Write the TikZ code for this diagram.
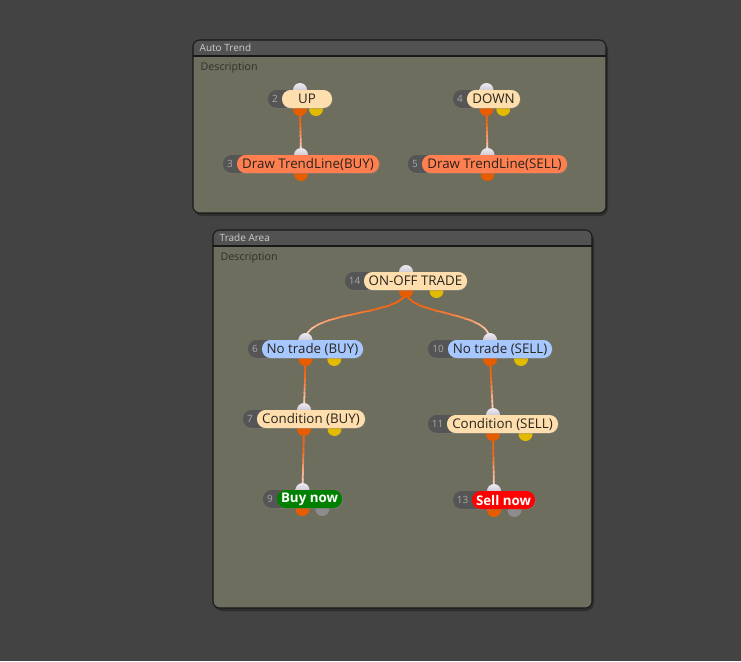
\documentclass[tikz,border=0pt]{standalone}
\usepackage{fontspec}
\setmainfont{Open Sans}
\usepackage{tikz}
\usetikzlibrary{shadows,calc}
\definecolor{bgGray}{RGB}{67,67,67}
\definecolor{panelFill}{RGB}{110,110,94}
\definecolor{titleGray}{RGB}{82,82,82}
\definecolor{titleText}{RGB}{205,205,205}
\definecolor{descText}{RGB}{48,48,42}
\definecolor{numGray}{RGB}{85,85,85}
\definecolor{numText}{RGB}{168,168,168}
\definecolor{nodeInk}{RGB}{40,36,30}
\definecolor{nodeCream}{RGB}{255,222,173}
\definecolor{nodeCoral}{RGB}{255,127,80}
\definecolor{nodeSky}{RGB}{166,200,255}
\definecolor{nodeGreen}{RGB}{0,128,0}
\definecolor{nodeRed}{RGB}{255,0,0}
\definecolor{portIn}{RGB}{214,202,220}
\definecolor{portOut}{RGB}{232,92,0}
\definecolor{portAux}{RGB}{226,186,0}
\definecolor{portOff}{RGB}{140,140,140}
\definecolor{wireOrange}{RGB}{240,100,20}
\definecolor{wirePale}{RGB}{252,238,238}
\pgfdeclarelayer{panels}
\pgfdeclarelayer{wires}
\pgfsetlayers{panels,wires,main}
% wire from an out port to an in port, orange fading to pale downwards
\newcommand{\gradwire}[3]{%
  \path (#1-out.center) coordinate (w0) (#2-in.center) coordinate (w1);
  \foreach \k in {0,...,11}{
    \pgfmathtruncatemacro\pct{min(100,(12-\k)*12)}
    \begin{scope}
      \clip ($(w0)!{(\k-0.1)/12}!(w1)+(-150,0)$) rectangle ($(w0)!{(\k+1)/12}!(w1)+(150,0)$);
      \draw[wire,wireOrange!\pct!wirePale] (#1-out.center) #3 (#2-in.center);
    \end{scope}
  }}

\begin{document}
\begin{tikzpicture}[x=0.75pt,y=-0.75pt,
  pill/.style={rectangle,rounded corners=6.5pt,fill=#1,minimum height=13.5pt,
               inner sep=0pt,font=\fontsize{10}{11}\selectfont,
               drop shadow={shadow xshift=0.7pt,shadow yshift=-0.9pt,opacity=0.4}},
  port/.style={circle,inner sep=0pt,minimum size=10.5pt,fill=#1},
  inport/.style={circle,inner sep=0pt,minimum size=10.5pt,
                 top color=portIn!40!white,bottom color=portIn!85!black},
  wire/.style={line width=1.3pt},
  box/.style={draw=black!90,line width=0.8pt,rounded corners=5pt},
  title/.style={anchor=west,text=titleText,font=\fontsize{7.5}{8}\selectfont},
  desc/.style={anchor=west,text=descText,font=\fontsize{8}{9}\selectfont}
]
\useasboundingbox (0,0) rectangle (741,661);

% Panels
\begin{pgfonlayer}{panels}
\fill[bgGray] (0,0) rectangle (741,661);
\foreach \pn/\xa/\ya/\xb/\yb/\ttl in {autotrend/193/40/606/213/Auto Trend,
                                    tradearea/213/230/592/608/Trade Area}
{
  \fill[black,opacity=0.3,rounded corners=6pt] (\xa+1,\ya+2) rectangle (\xb+2,\yb+3);
  \begin{scope}
    \clip[rounded corners=5pt] (\xa,\ya) rectangle (\xb,\yb);
    \fill[panelFill] (\xa,\ya) rectangle (\xb,\yb);
    \fill[titleGray] (\xa,\ya) rectangle (\xb,\ya+16);
    \draw[black!90,line width=0.8pt] (\xa,\ya+16) -- (\xb,\ya+16);
  \end{scope}
  \draw[box] (\xa,\ya) rectangle (\xb,\yb);
  \node[title] (\pn-title) at (\xa+2,\ya+8) {\ttl};
  \node[desc] (\pn-desc) at (\xa+3,\ya+28) {Description};
}
\end{pgfonlayer}

% Blocks: name / left / pill left / right / y / number / fill / ink / aux port / text
\foreach \nm/\xl/\xp/\xr/\yy/\num/\fc/\tc/\ac/\txt in {
  up/268/282/332/99/2/nodeCream/nodeInk/portAux/UP,
  dtbuy/223/237/379/164/3/nodeCoral/nodeInk/none/{Draw TrendLine(BUY)},
  down/453/467/520/99/4/nodeCream/nodeInk/portAux/DOWN,
  dtsell/408/422/567/164/5/nodeCoral/nodeInk/none/{Draw TrendLine(SELL)},
  onoff/345/364/467/281/14/nodeCream/nodeInk/portAux/{ON-OFF TRADE},
  nobuy/248/262/363/349/6/nodeSky/nodeInk/portAux/{No trade (BUY)},
  nosell/428/448/552/349/10/nodeSky/nodeInk/portAux/{No trade (SELL)},
  condbuy/243/257/365/419/7/nodeCream/nodeInk/portAux/{Condition (BUY)},
  condsell/428/447/558/424/11/nodeCream/nodeInk/portAux/{Condition (SELL)},
  buynow/263/277/342/499/9/nodeGreen/white/portOff/{\textbf{Buy now}},
  sellnow/453/472/535/500/13/nodeRed/white/portOff/{\textbf{Sell now}}}
{
  \pgfmathsetmacro\xc{(\xl+\xr)/2}
  \pgfmathsetmacro\xx{\xl+0.75*(\xr-\xl)}
  \node[inport] (\nm-in) at (\xc,\yy-9) {};
  \node[port=portOut] (\nm-out) at (\xc,\yy+10) {};
  \node[port=\ac] (\nm-aux) at (\xx,\yy+10) {};
  \node[pill=numGray,minimum width={(\xp+12-\xl)*0.75pt}]
    (\nm-tag) at ({(\xl+\xp+12)/2},\yy) {};
  \node[text=numText,font=\fontsize{7.5}{8}\selectfont] (\nm-num) at ({(\xl+\xp)/2},\yy) {\num};
  \node[pill=\fc,text=\tc,minimum width={(\xr-\xp)*0.75pt}]
    (\nm) at ({(\xp+\xr)/2},\yy) {\txt};
}

% Connectors
\begin{pgfonlayer}{wires}
\foreach \src/\dst in {up/dtbuy,down/dtsell,nobuy/condbuy,nosell/condsell,
                       condbuy/buynow,condsell/sellnow}
  {\gradwire{\src}{\dst}{--}}
\foreach \dst in {nobuy,nosell}
  {\gradwire{onoff}{\dst}{.. controls +(0,25) and +(0,-30) ..}}
\end{pgfonlayer}
\end{tikzpicture}
\end{document}
